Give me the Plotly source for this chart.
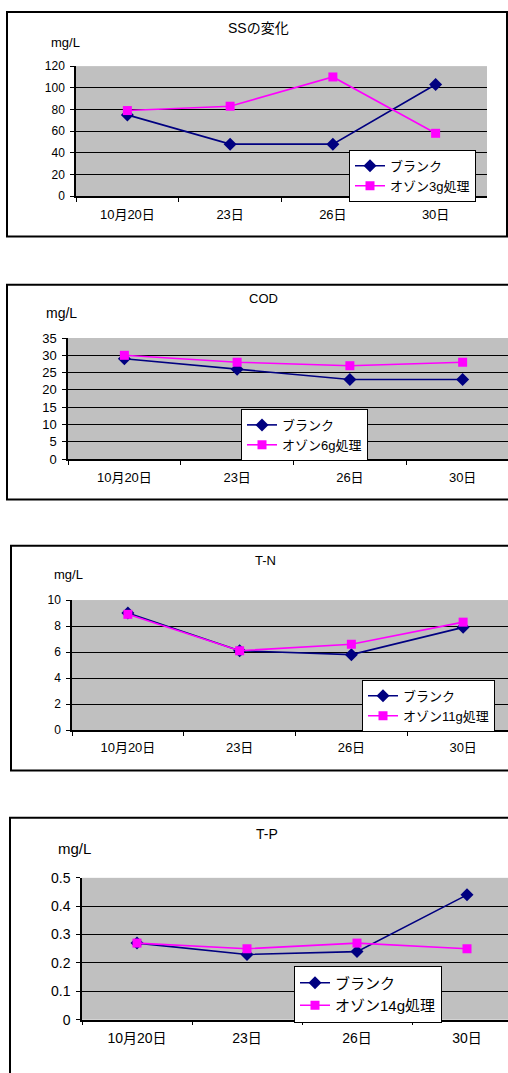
import plotly.graph_objects as go

W, H = 508, 1073

dates = ["10月20日", "23日", "26日", "30日"]

ss_blank = [75, 48, 48, 103]
ss_ozone = [79, 83, 110, 58]
cod_blank = [29, 26, 23, 23]
cod_ozone = [30, 28, 27, 28]
tn_blank = [9.0, 6.1, 5.8, 7.9]
tn_ozone = [8.9, 6.1, 6.6, 8.3]
tp_blank = [0.27, 0.23, 0.24, 0.44]
tp_ozone = [0.27, 0.25, 0.27, 0.25]

titles = ["SSの変化", "COD", "T-N", "T-P"]
ozone_names = ["オゾン3g処理", "オゾン6g処理", "オゾン11g処理", "オゾン14g処理"]
blank_name = "ブランク"
unit = "mg/L"

FONT = "Liberation Sans, Noto Sans CJK JP, sans-serif"


def px(x):
    return x / W


def py(y):
    return 1 - y / H


# layout specs in window pixels
specs = [
    dict(blank=ss_blank, ozone=ss_ozone, plot=(76, 487, 59, 191), xr=(-0.5, 3.5),
         yr=(0, 120), dt=20, leg=(349, 144), title=(258, 20), unit=(65, 35),
         box=(7, 4, 507, 232), yfs=12, xfs=13, lfs=13, tfs=14),
    dict(blank=cod_blank, ozone=cod_ozone, plot=(68, 519, 335, 458), xr=(-0.5, 3.5),
         yr=(0, 35), dt=5, leg=(241, 407), title=(263, 295), unit=(61, 310),
         box=(7, 281, 540, 499), yfs=13, xfs=13, lfs=13, tfs=13),
    dict(blank=tn_blank, ozone=tn_ozone, plot=(72, 519, 601, 733), xr=(-0.5, 3.5),
         yr=(0, 10), dt=2, leg=(362, 682), title=(265, 561), unit=(68, 575),
         box=(11, 546, 540, 774), yfs=12, xfs=13, lfs=13, tfs=13),
    dict(blank=tp_blank, ozone=tp_ozone, plot=(82, 522, 883, 1027), xr=(-0.5, 3.5),
         yr=(0, 0.5), dt=0.1, leg=(294, 972), title=(267, 838), unit=(74, 853),
         box=(10, 822, 540, 1100), yfs=14, xfs=14, lfs=15, tfs=14),
]

fig = go.Figure()
layout = dict(
    width=W, height=H, margin=dict(l=0, r=0, t=0, b=0),
    paper_bgcolor="white", plot_bgcolor="#C0C0C0",
    font=dict(family=FONT, color="black", size=13),
    shapes=[], annotations=[],
)

for i, s in enumerate(specs):
    n = "" if i == 0 else str(i + 1)
    xa, ya = "x" + n, "y" + n
    legname = "legend" if i == 0 else "legend" + str(i + 1)
    fig.add_trace(go.Scatter(
        x=dates, y=s["blank"], name=blank_name, mode="lines+markers",
        line=dict(color="#000080", width=1.6),
        marker=dict(symbol="diamond", size=10, color="#000080"),
        xaxis=xa, yaxis=ya, legend=legname, cliponaxis=False,
    ))
    fig.add_trace(go.Scatter(
        x=dates, y=s["ozone"], name=ozone_names[i], mode="lines+markers",
        line=dict(color="#FF00FF", width=1.6),
        marker=dict(symbol="square", size=9, color="#FF00FF"),
        xaxis=xa, yaxis=ya, legend=legname, cliponaxis=False,
    ))
    x0, x1, y0, y1 = s["plot"]
    # clip the plot area at the page edge while keeping the category scale
    xr0, xr1 = s["xr"]
    if x1 > W:
        step = (x1 - x0) / (xr1 - xr0)
        xr1 = xr0 + (W - x0) / step
        x1 = W
    layout["xaxis" + n] = dict(
        domain=[px(x0), px(x1)], anchor=ya, type="category", range=[xr0, xr1],
        showgrid=False, showline=True, linecolor="black", linewidth=1.5,
        ticks="outside", tickson="boundaries", ticklen=4, tickcolor="black",
        ticklabelstandoff=5, tickfont=dict(size=s["xfs"]), zeroline=False,
        fixedrange=True,
    )
    layout["yaxis" + n] = dict(
        domain=[py(y1), py(y0)], anchor=xa, range=list(s["yr"]), dtick=s["dt"],
        showgrid=True, gridcolor="black", gridwidth=1,
        showline=True, linecolor="black", linewidth=1.5,
        ticks="outside", ticklen=4, tickcolor="black",
        ticklabelstandoff=3, tickfont=dict(size=s["yfs"]), zeroline=False,
        fixedrange=True,
    )
    lx, ly = s["leg"]
    layout[legname] = dict(
        x=px(lx), y=py(ly), xanchor="left", yanchor="top",
        xref="paper", yref="paper",
        bgcolor="white", bordercolor="black", borderwidth=1,
        font=dict(size=s["lfs"]), tracegroupgap=0,
    )
    bx0, by0, bx1, by1 = s["box"]
    layout["shapes"].append(dict(
        type="rect", xref="paper", yref="paper",
        x0=px(bx0), x1=px(bx1), y0=py(by1), y1=py(by0),
        line=dict(color="black", width=2), layer="below",
    ))
    tx, ty = s["title"]
    layout["annotations"].append(dict(
        text=titles[i], x=px(tx), y=py(ty), xref="paper", yref="paper",
        showarrow=False, xanchor="center", yanchor="middle",
        font=dict(size=s["tfs"]),
    ))
    ux, uy = s["unit"]
    layout["annotations"].append(dict(
        text=unit, x=px(ux), y=py(uy), xref="paper", yref="paper",
        showarrow=False, xanchor="center", yanchor="middle",
        font=dict(size=s["yfs"] + 1),
    ))

fig.update_layout(**layout)
fig.write_html(
    "out.html",
    config={"displayModeBar": False},
    post_script="document.body.style.margin='0';document.body.style.overflow='hidden';",
)
